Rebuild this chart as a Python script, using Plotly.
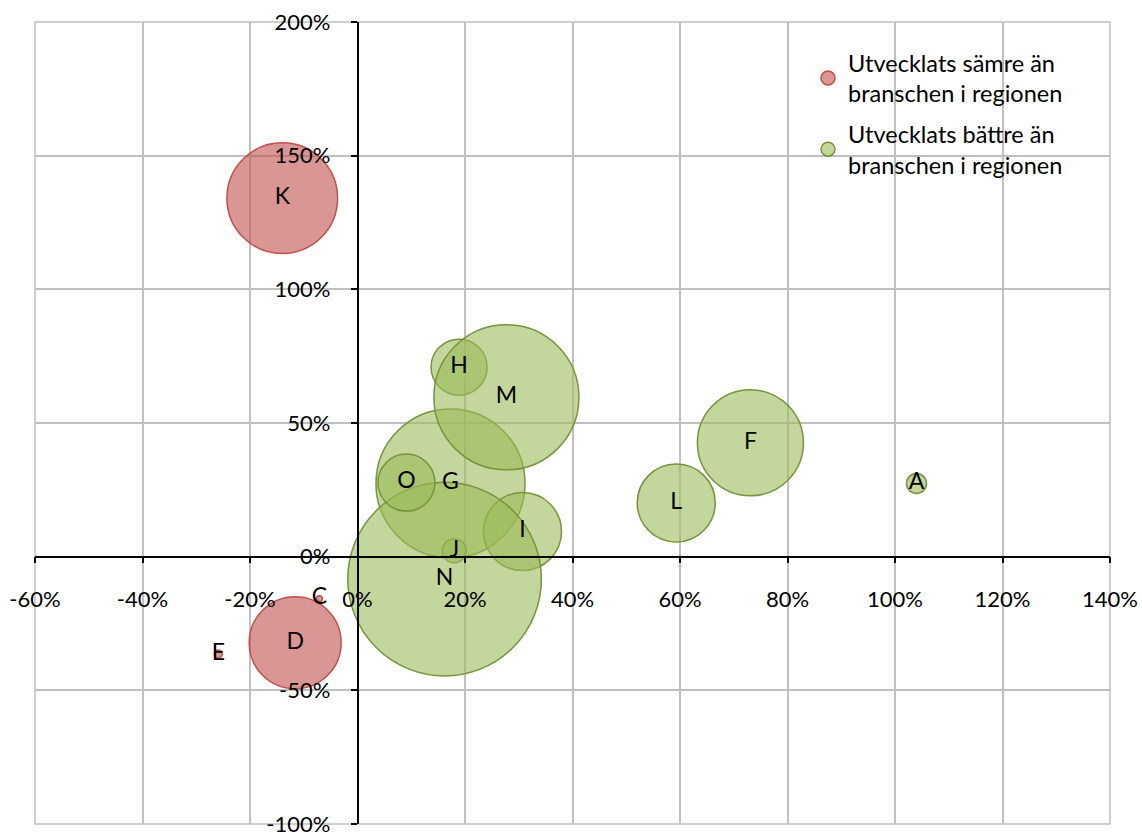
import plotly.graph_objects as go

# --- data ---------------------------------------------------------------
worse_labels = ["K", "D", "E", "C"]
worse_x = [-0.140, -0.116, -0.259, -0.071]
worse_y = [1.341, -0.322, -0.364, -0.157]
worse_size = [3060, 2116, 16, 9]

better_labels = ["A", "F", "G", "H", "I", "J", "L", "M", "N", "O"]
better_x = [1.040, 0.731, 0.173, 0.189, 0.307, 0.180, 0.593, 0.277, 0.162, 0.091]
better_y = [0.274, 0.426, 0.274, 0.709, 0.094, 0.022, 0.201, 0.596, -0.084, 0.277]
better_size = [100, 2809, 5550, 784, 1521, 144, 1521, 5256, 9370, 812]

series_names = ["Utvecklats sämre än<br>branschen i regionen",
                "Utvecklats bättre än<br>branschen i regionen"]

x_ticks = [-0.6, -0.4, -0.2, 0.0, 0.2, 0.4, 0.6, 0.8, 1.0, 1.2, 1.4]
x_ticklabels = ["-60%", "-40%", "-20%", "0%", "20%", "40%", "60%", "80%",
                "100%", "120%", "140%"]
y_ticks = [-1.0, -0.5, 0.0, 0.5, 1.0, 1.5, 2.0]
y_ticklabels = ["-100%", "-50%", "0%", "50%", "100%", "150%", "200%"]

# --- styling -------------------------------------------------------------
FONT = "Lato"
TICK_FS = 22
LEG_FS = 23.5
LBL_FS = 23
GRID = "#C0C0C0"
red_fill = "rgba(192,80,77,0.6)"
red_line = "#C0504D"
green_fill = "rgba(155,187,89,0.6)"
green_line = "#77933C"

max_diam = 193.6
sizeref = 2.0 * max(worse_size + better_size) / (max_diam ** 2)

fig = go.Figure()

fig.add_trace(go.Scatter(
    x=worse_x, y=worse_y, text=worse_labels, mode="markers+text",
    textposition="middle center",
    textfont=dict(family=FONT, size=LBL_FS, color="#000000"),
    marker=dict(size=worse_size, sizemode="area", sizeref=sizeref, opacity=1,
                color=red_fill, line=dict(color=red_line, width=1.5)),
    showlegend=False, hoverinfo="skip"))

fig.add_trace(go.Scatter(
    x=better_x, y=better_y, text=better_labels, mode="markers+text",
    textposition="middle center",
    textfont=dict(family=FONT, size=LBL_FS, color="#000000"),
    marker=dict(size=better_size, sizemode="area", sizeref=sizeref, opacity=1,
                color=green_fill, line=dict(color=green_line, width=1.5)),
    showlegend=False, hoverinfo="skip"))

# legend proxies
fig.add_trace(go.Scatter(
    x=[None], y=[None], mode="markers", name=series_names[0], legendgroup="a",
    marker=dict(size=14, opacity=1, color=red_fill,
                line=dict(color=red_line, width=1.5))))
fig.add_trace(go.Scatter(
    x=[None], y=[None], mode="markers", name=series_names[1], legendgroup="b",
    marker=dict(size=14, opacity=1, color=green_fill,
                line=dict(color=green_line, width=1.5))))

axis_common = dict(
    showgrid=True, gridcolor=GRID, gridwidth=1.5,
    zeroline=False, showline=True, linecolor="#000000", linewidth=1.5,
    ticks="outside", ticklen=6, tickwidth=1.5, tickcolor="#000000",
    tickfont=dict(family=FONT, size=TICK_FS, color="#000000"),
    anchor="free", fixedrange=True, automargin=False,
    ticklabeloverflow="allow",
)

L, R, T, B = 35, 32, 22, 9
W, H = 1142, 833
pw, ph = W - L - R, H - T - B


def px_x(p):
    return (p - L) / pw


def px_y(p):
    return 1 - (p - T) / ph


fig.update_layout(
    width=W, height=H,
    margin=dict(l=L, r=R, t=T, b=B, autoexpand=False),
    paper_bgcolor="white", plot_bgcolor="white",
    font=dict(family=FONT, size=LEG_FS, color="#000000"),
    xaxis=dict(range=[-0.6, 1.4], tickvals=x_ticks, ticktext=x_ticklabels,
               position=1/3, ticklabelstandoff=17, **axis_common),
    yaxis=dict(range=[-1.0, 2.0], tickvals=y_ticks, ticktext=y_ticklabels,
               position=0.3, ticklabelstandoff=16, **axis_common),
    legend=dict(x=px_x(808), y=px_y(41), xanchor="left", yanchor="top",
                bgcolor="rgba(0,0,0,0)", borderwidth=0, tracegroupgap=7,
                font=dict(family=FONT, size=LEG_FS, color="#000000")),
    showlegend=True,
    shapes=[
        # outer frame of the plot area (edge grid lines)
        dict(type="rect", xref="paper", yref="paper", x0=0, x1=1, y0=0, y1=1,
             line=dict(color=GRID, width=1.5), layer="between"),
        # white legend box interrupting the grid
        dict(type="rect", xref="paper", yref="paper",
             x0=px_x(803), x1=px_x(1088), y0=px_y(187), y1=px_y(43),
             fillcolor="white", line=dict(width=0), layer="between"),
    ],
)

fig.write_html(
    "out.html",
    config={"displayModeBar": False},
    post_script="document.body.style.margin='0';document.body.style.padding='0';",
)
